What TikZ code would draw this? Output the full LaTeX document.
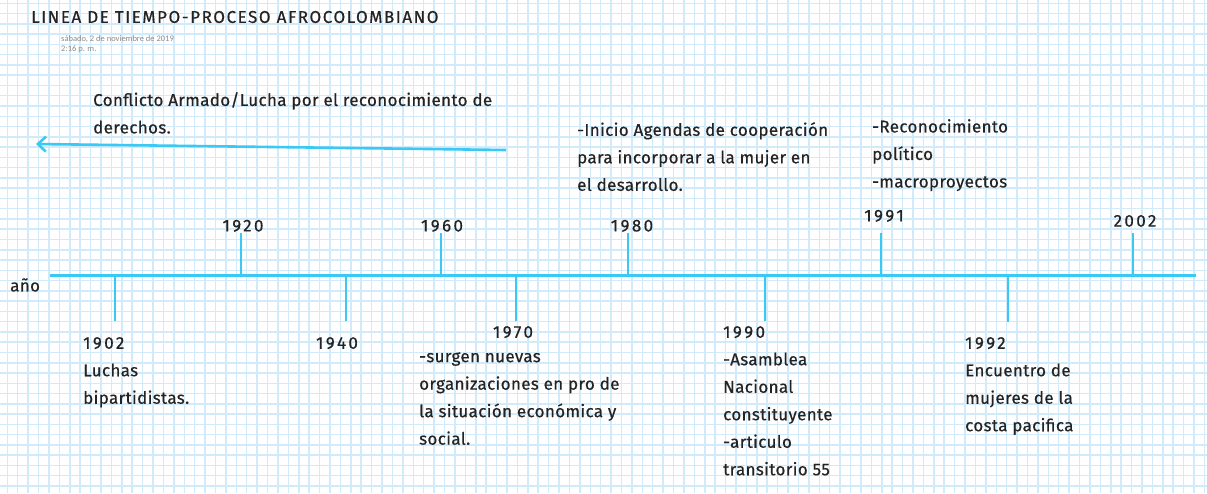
\documentclass[tikz,border=0pt]{standalone}
\usepackage{fontspec}
\setmainfont{Fira Sans}[LetterSpace=2,FakeBold=0.5]
\newfontfamily\datefont{Carlito}
\newfontfamily\titlefont{Fira Sans}[LetterSpace=9,FakeBold=0.5]
\newfontfamily\yearfont{Fira Sans}[LetterSpace=14,FakeBold=0.5]
\usetikzlibrary{positioning}
\usetikzlibrary{arrows.meta}
\definecolor{gridblue}{RGB}{210,235,251}
\definecolor{lineblue}{RGB}{58,200,245}
\definecolor{inkgray}{RGB}{35,35,35}
\definecolor{dategray}{RGB}{140,140,140}
\begin{document}
\begin{tikzpicture}[x=1pt,y=-1pt,node distance=2pt,font=\fontsize{17}{27.5}\selectfont,text=inkgray]
\tikzstyle{year} = [inner sep=0pt, font=\yearfont\fontsize{17}{27.5}\selectfont]
\tikzstyle{event} = [inner sep=0pt, align=left, anchor=north west]
\tikzstyle{axis} = [draw=lineblue, line width=3pt]
\tikzstyle{tick} = [draw=lineblue, line width=2.6pt]
\useasboundingbox (0,0) rectangle (1207,493);
\fill[white] (0,0) rectangle (1207,493);
% cuadricula
\begin{scope}
\clip (0,0) rectangle (1207,493);
\foreach \gx in {0,...,116} \draw[gridblue, line width=1.5pt] (7.3+10.41*\gx,0) -- (7.3+10.41*\gx,493);
\foreach \gy in {0,...,48} \draw[gridblue, line width=1.5pt] (0,3.3+10.27*\gy) -- (1207,3.3+10.27*\gy);
\end{scope}
\node [anchor=west, inner sep=0pt, font=\titlefont\fontsize{17}{18}\selectfont](title) at (31,17) {LINEA DE TIEMPO-PROCESO AFROCOLOMBIANO};
\node [anchor=west, inner sep=0pt, align=left, text=dategray, font=\datefont\fontsize{8.5}{10}\selectfont](date) at (61,44) {sábado, 2 de noviembre de 2019\\2:16 p. m.};
\node [event](conflict) at (93,92) {Conflicto Armado/Lucha por el reconocimiento de\\derechos.};
\coordinate (arrow_start) at (506,150);
\coordinate (arrow_end) at (36,144);
\draw [lineblue, line width=2.6pt, -{Straight Barb[length=8pt,width=15pt]}] (arrow_start) -- (arrow_end);
\node [event](agendas) at (577,122) {-Inicio Agendas de cooperación\\para incorporar a la mujer en\\el desarrollo.};
\node [event](politico) at (872,119) {-Reconocimiento\\político\\-macroproyectos};
\node [anchor=west, inner sep=0pt](anio) at (10,285) {año};
\coordinate (axis_start) at (50,275);
\coordinate (axis_end) at (1196,275);
\draw [axis] (axis_start) -- (axis_end);
\coordinate (a1902) at (115,275);
\coordinate (e1902) at (115,321);
\coordinate (a1920) at (241,275);
\coordinate (e1920) at (241,233);
\coordinate (a1940) at (346,275);
\coordinate (e1940) at (346,321);
\coordinate (a1960) at (441,275);
\coordinate (e1960) at (441,233);
\coordinate (a1970) at (516,275);
\coordinate (e1970) at (516,321);
\coordinate (a1980) at (628,275);
\coordinate (e1980) at (628,233);
\coordinate (a1990) at (765,275);
\coordinate (e1990) at (765,321);
\coordinate (a1991) at (881,275);
\coordinate (e1991) at (881,233);
\coordinate (a1992) at (1008,275);
\coordinate (e1992) at (1008,322);
\coordinate (a2002) at (1133,275);
\coordinate (e2002) at (1133,233);
\draw [tick] (a1902) -- (e1902);
\draw [tick] (a1920) -- (e1920);
\draw [tick] (a1940) -- (e1940);
\draw [tick] (a1960) -- (e1960);
\draw [tick] (a1970) -- (e1970);
\draw [tick] (a1980) -- (e1980);
\draw [tick] (a1990) -- (e1990);
\draw [tick] (a1991) -- (e1991);
\draw [tick] (a1992) -- (e1992);
\draw [tick] (a2002) -- (e2002);
\node [year, above=1pt of e1920, xshift=2pt](y1920) {1920};
\node [year, above=1pt of e1960, xshift=1pt](y1960) {1960};
\node [year, above=1pt of e1980, xshift=4pt](y1980) {1980};
\node [year, above=11pt of e1991, xshift=3pt](y1991) {1991};
\node [year, above=6pt of e2002, xshift=2pt](y2002) {2002};
\node [year, below=16pt of e1940, xshift=-9pt](y1940) {1940};
\node [year, below=5pt of e1970, xshift=-3pt](y1970) {1970};
\node [event](luchas) at (83,337) {{\yearfont 1902}\\Luchas\\bipartidistas.};
\node [event](surgen) at (419,352) {-surgen nuevas\\organizaciones en pro de\\la situación económica y\\social.};
\node [event](asamblea) at (723,326) {{\yearfont 1990}\\-Asamblea\\Nacional\\constituyente\\-articulo\\transitorio 55};
\node [event](encuentro) at (965,337) {{\yearfont 1992}\\Encuentro de\\mujeres de la\\costa pacifica};
\end{tikzpicture}
\end{document}
